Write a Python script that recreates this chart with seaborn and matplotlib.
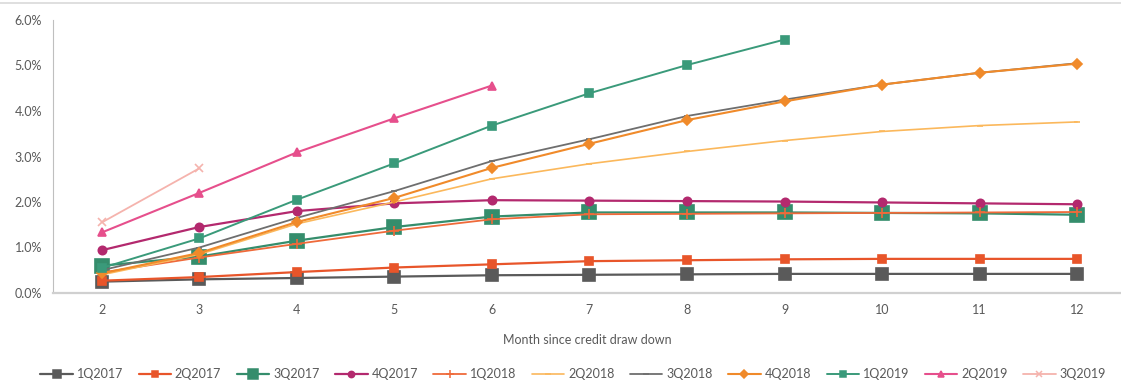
import matplotlib
matplotlib.use("Agg")
import matplotlib.pyplot as plt
import matplotlib.ticker as mticker
from matplotlib.lines import Line2D
import seaborn as sns
import pandas as pd

months = [2, 3, 4, 5, 6, 7, 8, 9, 10, 11, 12]

q1_2017 = [0.25, 0.30, 0.33, 0.36, 0.39, 0.40, 0.41, 0.42, 0.42, 0.42, 0.42]
q2_2017 = [0.27, 0.35, 0.46, 0.56, 0.63, 0.70, 0.72, 0.74, 0.75, 0.75, 0.75]
q3_2017 = [0.60, 0.80, 1.15, 1.45, 1.68, 1.77, 1.77, 1.77, 1.76, 1.75, 1.72]
q4_2017 = [0.94, 1.45, 1.80, 1.97, 2.04, 2.03, 2.02, 2.01, 1.99, 1.97, 1.95]
q1_2018 = [0.45, 0.78, 1.08, 1.37, 1.62, 1.73, 1.74, 1.75, 1.76, 1.77, 1.78]
q2_2018 = [0.40, 0.85, 1.52, 2.00, 2.51, 2.84, 3.11, 3.35, 3.55, 3.68, 3.76]
q3_2018 = [0.50, 1.00, 1.65, 2.24, 2.90, 3.38, 3.89, 4.25, 4.58, 4.84, 5.05]
q4_2018 = [0.43, 0.88, 1.56, 2.09, 2.75, 3.28, 3.80, 4.21, 4.58, 4.84, 5.04]
q1_2019 = [0.55, 1.20, 2.05, 2.85, 3.68, 4.39, 5.01, 5.57]
q2_2019 = [1.33, 2.20, 3.09, 3.84, 4.56]
q3_2019 = [1.55, 2.74]

series = [
    ("1Q2017", q1_2017),
    ("2Q2017", q2_2017),
    ("3Q2017", q3_2017),
    ("4Q2017", q4_2017),
    ("1Q2018", q1_2018),
    ("2Q2018", q2_2018),
    ("3Q2018", q3_2018),
    ("4Q2018", q4_2018),
    ("1Q2019", q1_2019),
    ("2Q2019", q2_2019),
    ("3Q2019", q3_2019),
]

styles = {
    "1Q2017": dict(color="#5a5a5a", marker="s", ms=8, lw=1.6),
    "2Q2017": dict(color="#e8552a", marker="s", ms=6, lw=1.6),
    "3Q2017": dict(color="#358d6c", marker="s", ms=10, lw=1.6),
    "4Q2017": dict(color="#b3296e", marker="o", ms=6, lw=1.6),
    "1Q2018": dict(color="#ef6a3a", marker="+", ms=7, lw=1.3),
    "2Q2018": dict(color="#fbb85c", marker="_", ms=5, lw=1.2),
    "3Q2018": dict(color="#6e6e6e", marker="_", ms=5, lw=1.3),
    "4Q2018": dict(color="#f08a2a", marker="D", ms=5, lw=1.5),
    "1Q2019": dict(color="#3a9a7a", marker="s", ms=6, lw=1.4),
    "2Q2019": dict(color="#e64f8c", marker="^", ms=6, lw=1.5),
    "3Q2019": dict(color="#f5b3ad", marker="x", ms=6, lw=1.3),
}

rows = []
for name, vals in series:
    for m, v in zip(months, vals):
        rows.append({"cohort": name, "month": m, "rate": v / 100.0})
df = pd.DataFrame(rows)

sns.set_theme(style="white")
plt.rcParams["font.family"] = ["Lato", "DejaVu Sans"]

fig = plt.figure(figsize=(11.21, 3.84), dpi=100)
ax = fig.add_axes([53 / 1121, (384 - 293) / 384, 1068 / 1121, 273 / 384])

handles = []
for name, _ in series:
    st = styles[name]
    sub = df[df["cohort"] == name]
    sns.lineplot(data=sub, x="month", y="rate", ax=ax, color=st["color"],
                 linewidth=st["lw"], marker=st["marker"], markersize=st["ms"],
                 markeredgecolor=st["color"], markeredgewidth=1.2,
                 legend=False, errorbar=None)
    handles.append(Line2D([], [], color=st["color"], lw=st["lw"],
                          marker=st["marker"], markersize=st["ms"] * 0.75,
                          markeredgecolor=st["color"], markeredgewidth=1.1))

ax.set_xlim(1.5, 12.45)
ax.set_ylim(0, 0.06)
ax.set_xticks(months)
ax.set_yticks([0, 0.01, 0.02, 0.03, 0.04, 0.05, 0.06])
ax.yaxis.set_major_formatter(mticker.PercentFormatter(1.0, decimals=1))
ax.tick_params(axis="both", labelsize=9, labelcolor="#595959", colors="#595959")
ax.tick_params(axis="y", length=4, width=0.8, color="#bfbfbf", pad=4)
ax.tick_params(axis="x", length=0, pad=8)

for side in ("top", "right"):
    ax.spines[side].set_visible(False)
ax.spines["left"].set_color("#bfbfbf")
ax.spines["left"].set_linewidth(0.8)
ax.spines["bottom"].set_color("#d0d0d0")
ax.spines["bottom"].set_linewidth(1.6)

ax.set_xlabel("Month since credit draw down", fontsize=9, color="#595959", labelpad=13)
ax.set_ylabel("")

fig.add_artist(Line2D([0, 1], [1 - 3 / 384, 1 - 3 / 384], transform=fig.transFigure,
                      color="#d9d9d9", lw=1.2))

fig.legend(handles, [n for n, _ in series], loc="center", ncol=11,
           bbox_to_anchor=(573 / 1121, 1 - 374 / 384), frameon=False,
           fontsize=9, labelcolor="#595959", handlelength=2.6,
           handletextpad=0.3, columnspacing=1.25)

fig.savefig("out.png", dpi=100, facecolor="white")
